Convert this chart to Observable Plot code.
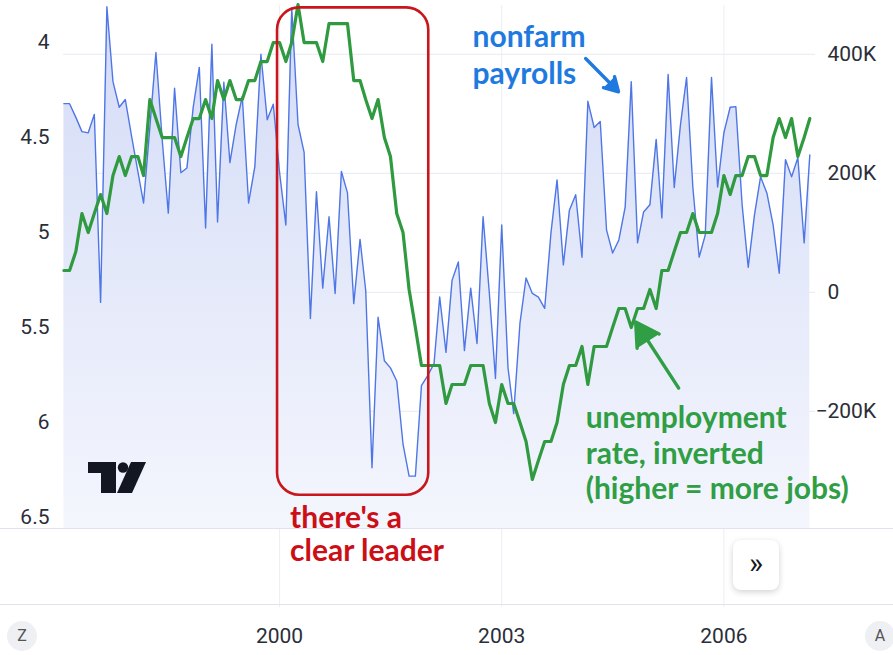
<!DOCTYPE html>
<html>
<head>
<meta charset="utf-8">
<script src="https://cdn.jsdelivr.net/npm/d3@7"></script>
<script src="https://cdn.jsdelivr.net/npm/@observablehq/plot@0.6"></script>
<style>
html,body{margin:0;padding:0;background:#fff;}
#wrap{position:relative;width:893px;height:655px;overflow:hidden;background:#fff;font-family:Roboto,"Noto Sans",sans-serif;}
#wrap svg.layer{position:absolute;left:0;top:0;overflow:visible;}
.sep{position:absolute;left:0;width:893px;height:1px;background:#e0e3eb;}
.circ{position:absolute;width:30px;height:30px;border-radius:50%;background:#eef0f4;color:#555;font-size:16px;line-height:30px;text-align:center;}
#btn{position:absolute;left:733px;top:540px;width:46px;height:50px;border-radius:8px;background:#fff;box-shadow:0 2px 6px rgba(0,0,0,0.18);color:#131722;font-size:30px;line-height:46px;text-align:center;}
</style>
</head>
<body>
<div id="wrap"></div>
<script>
// ---- data (monthly, Feb 1997 .. Mar 2007) ----
const firstYear = 1997, firstMonth = 1; // Feb (0-based month)
// nonfarm payroll change, thousands
const payrolls = [
  317, 317, 294, 270, 268, 299, -17, 480, 354, 311, 324,
  262, 203, 150, 277, 403, 256, 133, 343, 201, 209, 311, 378,
  108, 417, 118, 353, 218, 282, 329, 150, 211, 400, 290, 316,
  201, 113, 478, 282, 235, -44, 169, 7, 127, -2, 203, 167,
  -19, 89, 3, -295, -42, -115, -127, -149, -255, -309, -309, -157,
  -140, -120, -8, -101, 20, 51, -98, 7, -86, 127, -2, -145,
  113, -127, -204, -52, 24, -2, -8, -27, 100, 189, 46, 138,
  164, 59, 321, 277, 287, 105, 66, 88, 143, 354, 83, 135,
  147, 257, 125, 366, 176, 282, 361, 176, 59, 96, 361, 177,
  268, 311, 312, 147, 42, 130, 194, 167, 113, 32, 223, 194,
  226, 83, 231
];
// unemployment rate, %
const unemployment = [
  5.2, 5.2, 5.1, 4.9, 5.0, 4.9, 4.8, 4.9, 4.7, 4.6, 4.7,
  4.6, 4.6, 4.7, 4.3, 4.4, 4.5, 4.5, 4.5, 4.6, 4.5, 4.4, 4.4,
  4.3, 4.4, 4.2, 4.3, 4.2, 4.3, 4.3, 4.2, 4.2, 4.1, 4.1, 4.0,
  4.0, 4.1, 4.0, 3.8, 4.0, 4.0, 4.0, 4.1, 3.9, 3.9, 3.9, 3.9,
  4.2, 4.2, 4.3, 4.4, 4.3, 4.5, 4.6, 4.9, 5.0, 5.3, 5.5, 5.7,
  5.7, 5.7, 5.7, 5.9, 5.8, 5.8, 5.8, 5.7, 5.7, 5.7, 5.9, 6.0,
  5.8, 5.9, 5.9, 6.0, 6.1, 6.3, 6.2, 6.1, 6.1, 6.0, 5.8, 5.7,
  5.7, 5.6, 5.8, 5.6, 5.6, 5.6, 5.5, 5.4, 5.4, 5.5, 5.4, 5.4,
  5.3, 5.4, 5.2, 5.2, 5.1, 5.0, 5.0, 4.9, 5.0, 5.0, 5.0, 4.9,
  4.7, 4.8, 4.7, 4.7, 4.6, 4.6, 4.7, 4.7, 4.5, 4.4, 4.5, 4.4,
  4.6, 4.5, 4.4
];
const yearTicks = [2000, 2003, 2006];
const payrollTicks = [400, 200, 0, -200];
const rateTicks = [4, 4.5, 5, 5.5, 6, 6.5];

// annotation texts
const payrollNote = "nonfarm\npayrolls";
const rateNote = "unemployment\nrate, inverted\n(higher = more jobs)";
const leaderNote = "there's a\nclear leader";

// ---- build table ----
const data = payrolls.map((p, i) => ({
  date: new Date(Date.UTC(firstYear, firstMonth + i, 1)),
  payroll: p,
  rate: unemployment[i]
}));
const yearDates = yearTicks.map(y => new Date(Date.UTC(y, 0, 1)));
const fmtK = d => d === 0 ? "0" : (d < 0 ? "\u2212" : "") + Math.abs(d) + "K";

const W = 893, H = 655;
const frame = {width: W, height: H, marginLeft: 63, marginRight: 78, marginTop: 5, marginBottom: 127};
const xScale = {type: "utc", domain: [new Date(Date.UTC(1997, 0, 30)), new Date(Date.UTC(2007, 2, 29))], label: null};
const payDomain = [-397, 482];
const axisFont = {fontSize: 21, fill: "#2a2e39"};
const AX = "#2a2e39";

// layer A: payrolls (right axis), grid, time axis
const plotA = Plot.plot({
  ...frame,
  x: xScale,
  y: {domain: payDomain, label: null},
  style: {background: "transparent", fontFamily: "Roboto, sans-serif", color: AX},
  marks: [
    Plot.gridY(payrollTicks, {stroke: "#e7eaf1", strokeOpacity: 1}),
    Plot.ruleX(yearDates, {y1: -530, y2: payDomain[1], stroke: "#eceef3"}),
    Plot.areaY(data, {x: "date", y1: payDomain[0], y2: "payroll", fill: "url(#payGrad)"}),
    Plot.lineY(data, {x: "date", y: "payroll", stroke: "#4f76e6", strokeWidth: 1.4}),
    Plot.axisY(payrollTicks.filter(d => d >= 0), {anchor: "right", tickSize: 0, tickPadding: 12, tickFormat: fmtK, label: null, ...axisFont}),
    Plot.axisY(payrollTicks.filter(d => d < 0), {anchor: "right", tickSize: 0, tickPadding: 12, dx: -12, tickFormat: fmtK, label: null, ...axisFont}),
    Plot.axisX(yearDates, {anchor: "bottom", tickSize: 0, tickPadding: 100, tickFormat: d => String(d.getUTCFullYear()), label: null, ...axisFont})
  ]
});

// layer B: unemployment rate inverted (left axis)
const plotB = Plot.plot({
  ...frame,
  x: {...xScale, axis: null},
  y: {domain: [3.805, 6.558], reverse: true, label: null},
  style: {background: "transparent", fontFamily: "Roboto, sans-serif", color: AX},
  marks: [
    Plot.lineY(data, {x: "date", y: "rate", stroke: "#2f9a3f", strokeWidth: 3.2, strokeLinejoin: "round"}),
    Plot.axisY(rateTicks, {anchor: "left", tickSize: 0, tickPadding: 14, tickFormat: d => String(d), label: null, ...axisFont})
  ]
});

// layer C: annotations
const redBox = [{x1: new Date(Date.UTC(1999, 11, 22)), x2: new Date(Date.UTC(2002, 0, 6)), y1: -341, y2: 478}];
const notes = {
  payroll: [{x: new Date(Date.UTC(2002, 7, 10)), y: 401, text: payrollNote}],
  rate: [{x: new Date(Date.UTC(2004, 1, 19)), y: -269, text: rateNote}],
  leader: [{x: new Date(Date.UTC(2000, 1, 22)), y: -406, text: leaderNote}]
};
const arrows = [
  {x1: new Date(Date.UTC(2004, 1, 19)), y1: 393, x2: new Date(Date.UTC(2004, 6, 30)), y2: 337, c: "#1f7ae0"},
  {x1: new Date(Date.UTC(2005, 4, 23)), y1: -161, x2: new Date(Date.UTC(2004, 9, 23)), y2: -50, c: "#2f9e44"}
];
const noteFont = {fontFamily: "Lato, sans-serif", fontWeight: "bold", fontSize: 30};
const plotC = Plot.plot({
  ...frame,
  x: {...xScale, axis: null},
  y: {domain: payDomain, axis: null},
  style: {background: "transparent"},
  marks: [
    Plot.rect(redBox, {x1: "x1", x2: "x2", y1: "y1", y2: "y2", stroke: "#c9161c", strokeWidth: 2.6, fill: "none", rx: 22}),
    Plot.text(notes.payroll, {x: "x", y: "y", text: "text", textAnchor: "start", lineAnchor: "middle", lineHeight: 1.23, fill: "#1f7ae0", ...noteFont}),
    Plot.text(notes.rate, {x: "x", y: "y", text: "text", textAnchor: "start", lineAnchor: "middle", lineHeight: 1.17, fill: "#2f9e44", ...noteFont}),
    Plot.text(notes.leader, {x: "x", y: "y", text: "text", textAnchor: "start", lineAnchor: "middle", lineHeight: 1.1, fill: "#cc0f16", ...noteFont}),
    Plot.arrow(arrows, {x1: "x1", y1: "y1", x2: "x2", y2: "y2", stroke: "c", strokeWidth: 3.4, headLength: 18, headAngle: 60, strokeLinejoin: "miter"})
  ]
});

// gradient for the payroll area
const defs = document.createElementNS("http://www.w3.org/2000/svg", "defs");
defs.innerHTML = '<linearGradient id="payGrad" gradientUnits="userSpaceOnUse" x1="0" y1="5" x2="0" y2="528">' +
  '<stop offset="0" stop-color="#d3dbf6"/><stop offset="1" stop-color="#f4f6fd"/></linearGradient>';
plotA.insertBefore(defs, plotA.firstChild);
// rounded corners for the highlight box
plotC.querySelectorAll('g[aria-label="rect"] rect').forEach(r => { r.setAttribute("rx", 22); r.setAttribute("ry", 22); });
// filled arrow heads: fill the head sub-path with the stroke colour
plotC.querySelectorAll('g[aria-label="arrow"] path').forEach(p => {
  const c = p.getAttribute("stroke") || p.parentNode.getAttribute("stroke");
  if (c) p.setAttribute("fill", c);
});

const wrap = document.getElementById("wrap");
[plotA, plotB, plotC].forEach(s => { s.classList.add("layer"); wrap.appendChild(s); });

// chart chrome (TradingView panes)
wrap.insertAdjacentHTML("beforeend",
  '<div class="sep" style="top:528px"></div>' +
  '<div class="sep" style="top:604px"></div>' +
  '<div id="btn">\u00BB</div>' +
  '<div class="circ" style="left:7px;top:621px">Z</div>' +
  '<div class="circ" style="left:865px;top:621px">A</div>' +
  '<svg style="position:absolute;left:86px;top:460px" width="62" height="36" viewBox="0 0 62 36">' +
  '<path d="M2 2H30V33H15V13H2Z" fill="#131722"/>' +
  '<circle cx="37" cy="7.5" r="5.2" fill="#131722"/>' +
  '<path d="M45 2H60L46 33H31Z" fill="#131722"/></svg>');
</script>
</body>
</html>
